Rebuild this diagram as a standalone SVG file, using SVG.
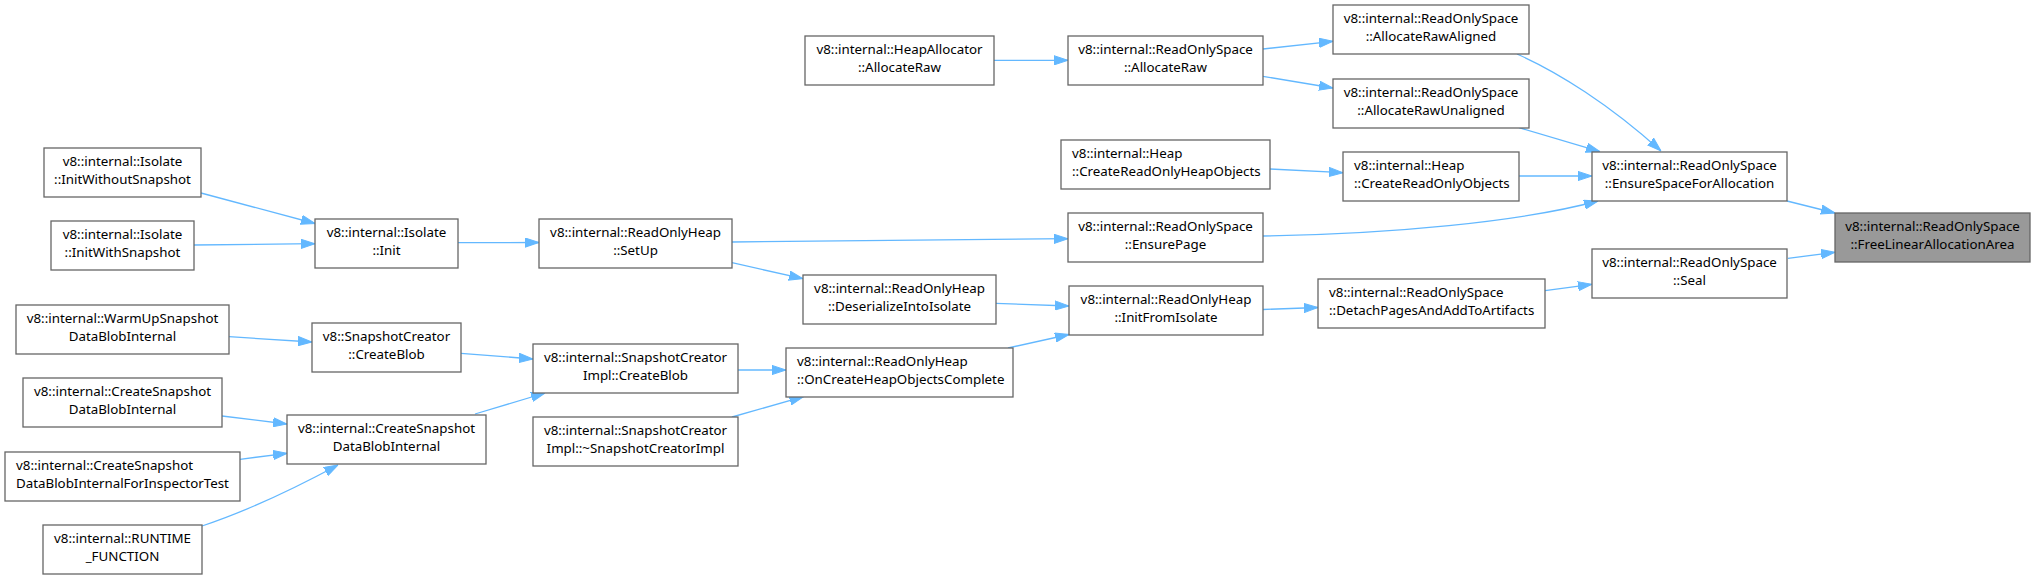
<svg xmlns="http://www.w3.org/2000/svg" width="2036" height="579" viewBox="0 0 2036 579">
<style>
rect{fill:#fff;stroke:#666;stroke-width:1.3}
.hl rect{fill:#999}
text{font-family:"Noto Sans","Open Sans",sans-serif;font-size:13.33px;fill:#000;text-anchor:middle}
text.l{text-anchor:start}
#edges path{fill:none;stroke:#63b8ff;stroke-width:1.3;marker-end:url(#arr)}
</style>
<defs>
<marker id="arr" markerUnits="userSpaceOnUse" markerWidth="14" markerHeight="10" viewBox="0 0 14 10" refX="14" refY="5" orient="auto">
<path d="M0,0.4 L14,5 L0,9.6 z" fill="#63b8ff" stroke="#63b8ff" stroke-width="1"/>
</marker>
</defs>
<rect x="0" y="0" width="2036" height="579" style="fill:#fff;stroke:none"/>
<g id="edges">
<path d="M201,193 L315,223.5"/>
<path d="M194,245 L315,243.7"/>
<path d="M458,242.7 L539,242.5"/>
<path d="M229,336.7 L312,342"/>
<path d="M461,353.3 L533,359"/>
<path d="M222,416 L287,424"/>
<path d="M240,459.3 L287,453.3"/>
<path d="M202,526 Q262,506 338,465"/>
<path d="M475,414 L545,393"/>
<path d="M732,242 L1068,238.7"/>
<path d="M732,262.7 L803,278.7"/>
<path d="M738,370 L786,370"/>
<path d="M732,417 L803.5,396.7"/>
<path d="M996,303.3 L1069,306"/>
<path d="M1008,348 L1069,334.5"/>
<path d="M994,60.3 L1068,60.3"/>
<path d="M1263,49 L1333,41.3"/>
<path d="M1263,76.3 L1333,88"/>
<path d="M1270,169 L1343,172.7"/>
<path d="M1517,54 C1558,72 1610,105 1661,151"/>
<path d="M1519,127.7 L1600,151.7"/>
<path d="M1519,176 L1592,176"/>
<path d="M1263,236 C1390,234 1520,222 1598,201"/>
<path d="M1263,309.5 L1318,307.5"/>
<path d="M1545,290.7 L1592,284.3"/>
<path d="M1787,201 L1835,213"/>
<path d="M1788,258.3 L1835,252.3"/>
</g>
<g id="n_initwo"><rect x="44" y="148" width="157" height="49"/><text x="122.5" y="165.5">v8::internal::Isolate</text><text x="122.5" y="184">::InitWithoutSnapshot</text></g>
<g id="n_initw"><rect x="51" y="221" width="143" height="49"/><text x="122.5" y="238.5">v8::internal::Isolate</text><text x="122.5" y="257">::InitWithSnapshot</text></g>
<g id="n_init"><rect x="315" y="219" width="143" height="49"/><text x="386.5" y="236.5">v8::internal::Isolate</text><text x="386.5" y="255">::Init</text></g>
<g id="n_warmup"><rect x="16" y="305" width="213" height="49"/><text x="122.5" y="322.5">v8::internal::WarmUpSnapshot</text><text x="122.5" y="341">DataBlobInternal</text></g>
<g id="n_sccb"><rect x="312" y="323" width="149" height="49"/><text x="386.5" y="340.5">v8::SnapshotCreator</text><text x="386.5" y="359">::CreateBlob</text></g>
<g id="n_csdbi_l"><rect x="23" y="378" width="199" height="49"/><text x="122.5" y="395.5">v8::internal::CreateSnapshot</text><text x="122.5" y="414">DataBlobInternal</text></g>
<g id="n_csdbi_fit"><rect x="5" y="452" width="235" height="49"/><text class="l" x="16" y="469.5">v8::internal::CreateSnapshot</text><text class="l" x="16" y="488">DataBlobInternalForInspectorTest</text></g>
<g id="n_runtime"><rect x="43" y="525" width="159" height="49"/><text x="122.5" y="542.5">v8::internal::RUNTIME</text><text x="122.5" y="561">_FUNCTION</text></g>
<g id="n_csdbi_m"><rect x="287" y="415" width="199" height="49"/><text x="386.5" y="432.5">v8::internal::CreateSnapshot</text><text x="386.5" y="451">DataBlobInternal</text></g>
<g id="n_setup"><rect x="539" y="219" width="193" height="49"/><text x="635.5" y="236.5">v8::internal::ReadOnlyHeap</text><text x="635.5" y="255">::SetUp</text></g>
<g id="n_deser"><rect x="803" y="275" width="193" height="49"/><text x="899.5" y="292.5">v8::internal::ReadOnlyHeap</text><text x="899.5" y="311">::DeserializeIntoIsolate</text></g>
<g id="n_scicb"><rect x="533" y="344" width="205" height="49"/><text x="635.5" y="361.5">v8::internal::SnapshotCreator</text><text x="635.5" y="380">Impl::CreateBlob</text></g>
<g id="n_oncreate"><rect x="786" y="348" width="227" height="49"/><text class="l" x="797" y="365.5">v8::internal::ReadOnlyHeap</text><text class="l" x="797" y="384">::OnCreateHeapObjectsComplete</text></g>
<g id="n_dtor"><rect x="533" y="417" width="205" height="49"/><text x="635.5" y="434.5">v8::internal::SnapshotCreator</text><text x="635.5" y="453">Impl::~SnapshotCreatorImpl</text></g>
<g id="n_ha"><rect x="805" y="36" width="189" height="49"/><text x="899.5" y="53.5">v8::internal::HeapAllocator</text><text x="899.5" y="72">::AllocateRaw</text></g>
<g id="n_rsar"><rect x="1068" y="36" width="195" height="49"/><text x="1165.5" y="53.5">v8::internal::ReadOnlySpace</text><text x="1165.5" y="72">::AllocateRaw</text></g>
<g id="n_aligned"><rect x="1333" y="5" width="196" height="49"/><text x="1431" y="22.5">v8::internal::ReadOnlySpace</text><text x="1431" y="41">::AllocateRawAligned</text></g>
<g id="n_unaligned"><rect x="1333" y="79" width="196" height="49"/><text x="1431" y="96.5">v8::internal::ReadOnlySpace</text><text x="1431" y="115">::AllocateRawUnaligned</text></g>
<g id="n_crobo"><rect x="1061" y="140" width="209" height="49"/><text class="l" x="1072" y="157.5">v8::internal::Heap</text><text class="l" x="1072" y="176">::CreateReadOnlyHeapObjects</text></g>
<g id="n_croo"><rect x="1343" y="152" width="176" height="49"/><text class="l" x="1354" y="169.5">v8::internal::Heap</text><text class="l" x="1354" y="188">::CreateReadOnlyObjects</text></g>
<g id="n_ensurepage"><rect x="1068" y="213" width="195" height="49"/><text x="1165.5" y="230.5">v8::internal::ReadOnlySpace</text><text x="1165.5" y="249">::EnsurePage</text></g>
<g id="n_esfa"><rect x="1592" y="152" width="195" height="49"/><text x="1689.5" y="169.5">v8::internal::ReadOnlySpace</text><text x="1689.5" y="188">::EnsureSpaceForAllocation</text></g>
<g id="n_flaa" class="hl"><rect x="1835" y="213" width="195" height="49"/><text x="1932.5" y="230.5">v8::internal::ReadOnlySpace</text><text x="1932.5" y="249">::FreeLinearAllocationArea</text></g>
<g id="n_seal"><rect x="1592" y="249" width="195" height="49"/><text x="1689.5" y="266.5">v8::internal::ReadOnlySpace</text><text x="1689.5" y="285">::Seal</text></g>
<g id="n_initfrom"><rect x="1069" y="286" width="194" height="49"/><text x="1166" y="303.5">v8::internal::ReadOnlyHeap</text><text x="1166" y="322">::InitFromIsolate</text></g>
<g id="n_detach"><rect x="1318" y="279" width="227" height="49"/><text class="l" x="1329" y="296.5">v8::internal::ReadOnlySpace</text><text class="l" x="1329" y="315">::DetachPagesAndAddToArtifacts</text></g>
</svg>
